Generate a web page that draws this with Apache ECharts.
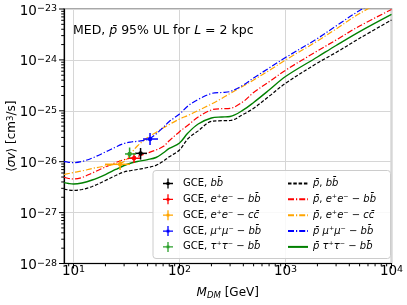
<!DOCTYPE html>
<html>
<head>
<meta charset="utf-8">
<script src="https://cdn.jsdelivr.net/npm/echarts@6/dist/echarts.min.js"></script>
<style>html,body{margin:0;padding:0;background:#fff}#c{width:407px;height:305px}</style>
</head>
<body>
<div id="c"></div>
<script>
// ---------- data ----------
const masses = [8.13, 9, 10, 12, 15, 20, 25, 30, 35, 40, 50, 60, 70, 80, 100, 120, 150, 200, 250, 300, 400, 500, 700, 1000, 2000, 3000, 5000, 10000];
const pbarBB    = [2.91e-27, 2.78e-27, 2.72e-27, 2.84e-27, 3.26e-27, 4.27e-27, 5.36e-27, 6.28e-27, 6.71e-27, 7.03e-27, 7.69e-27, 8.46e-27, 1.02e-26, 1.25e-26, 1.70e-26, 2.82e-26, 4.03e-26, 6.19e-26, 6.39e-26, 6.45e-26, 8.53e-26, 1.12e-25, 1.93e-25, 3.47e-25, 8.69e-25, 1.40e-24, 2.66e-24, 6.08e-24];
const pbarEEBB  = [4.94e-27, 4.68e-27, 4.57e-27, 4.89e-27, 6.0e-27, 7.87e-27, 9.64e-27, 1.10e-26, 1.18e-26, 1.27e-26, 1.48e-26, 1.70e-26, 1.98e-26, 2.58e-26, 3.89e-26, 5.21e-26, 7.55e-26, 1.04e-25, 1.10e-25, 1.12e-25, 1.52e-25, 2.29e-25, 3.71e-25, 6.25e-25, 1.50e-24, 2.46e-24, 4.63e-24, 9.77e-24];
const pbarEECC  = [5.60e-27, 5.86e-27, 6.14e-27, 6.57e-27, 7.35e-27, 8.23e-27, 9.01e-27, 1.01e-26, 1.48e-26, 2.03e-26, 2.99e-26, 3.75e-26, 4.59e-26, 5.38e-26, 6.9e-26, 8.09e-26, 1.01e-25, 1.36e-25, 1.75e-25, 2.19e-25, 3.07e-25, 4.03e-25, 6.19e-25, 9.95e-25, 2.35e-24, 4.05e-24, 8.16e-24, 1.78e-23];
const pbarMMBB  = [1.0e-26, 9.73e-27, 9.56e-27, 1.01e-26, 1.18e-26, 1.55e-26, 1.94e-26, 2.28e-26, 2.44e-26, 2.52e-26, 2.73e-26, 3.50e-26, 4.70e-26, 6.16e-26, 8.65e-26, 1.24e-25, 1.67e-25, 2.19e-25, 2.29e-25, 2.39e-25, 3.21e-25, 4.41e-25, 6.93e-25, 1.11e-24, 2.63e-24, 4.63e-24, 9.34e-24, 2.1e-23];
const pbarTTBB  = [3.87e-27, 3.73e-27, 3.65e-27, 3.82e-27, 4.37e-27, 5.6e-27, 7.03e-27, 8.42e-27, 9.43e-27, 1.01e-26, 1.10e-26, 1.21e-26, 1.48e-26, 1.82e-26, 2.33e-26, 3.66e-26, 5.5e-26, 7.22e-26, 7.55e-26, 7.73e-26, 1.04e-25, 1.46e-25, 2.56e-25, 4.72e-25, 1.14e-24, 1.92e-24, 3.61e-24, 7.87e-24];

// GCE points: [mass, sigmav, massLow, massHigh, sigmavLow, sigmavHigh]
const gceBB   = [42.9, 1.46e-26, 38.0, 49.3, 1.10e-26, 1.86e-26];
const gceEEBB = [37.2, 1.17e-26, 32.7, 42.4, 9.43e-27, 1.48e-26];
const gceEECC = [27.5, 8.89e-27, 19.8, 34.1, 6.87e-27, 1.08e-26];
const gceMMBB = [52.7, 2.79e-26, 45.3, 62.7, 2.13e-26, 3.66e-26];
const gceTTBB = [33.8, 1.42e-26, 30.6, 38.9, 1.17e-26, 1.90e-26];

// axes
const xMin = 8.13, xMax = 1e4, yMin = 1e-28, yMax = 1e-23;
const xMajorTicks = [10, 100, 1000, 10000];
const yMajorTicks = [1e-28, 1e-27, 1e-26, 1e-25, 1e-24, 1e-23];
const yTickLabels = ['\u221228', '\u221227', '\u221226', '\u221225', '\u221224', '\u221223'];
const xMinorTicks = [9, 20, 30, 40, 50, 60, 70, 80, 90, 200, 300, 400, 500, 600, 700, 800, 900, 2000, 3000, 4000, 5000, 6000, 7000, 8000, 9000];
const yMinorTicks = [];
[-28, -27, -26, -25, -24].forEach(function (e) { for (let k = 2; k <= 9; k++) yMinorTicks.push(k * Math.pow(10, e)); });

// labels
const lineNames = ['pbar_bb', 'pbar_eebb', 'pbar_eecc', 'pbar_mmbb', 'pbar_ttbb'];
const gceNames = ['gce_bb', 'gce_eebb', 'gce_eecc', 'gce_mmbb', 'gce_ttbb'];
const B = '{i|b}{i|b\u0304}';
const labels = {
  gce_bb:   'GCE, ' + B,
  gce_eebb: 'GCE, {i|e}\u207A{i|e}\u207B \u2212 ' + B,
  gce_eecc: 'GCE, {i|e}\u207A{i|e}\u207B \u2212 {i|c}{i|c\u0304}',
  gce_mmbb: 'GCE, {i|\u03BC}\u207A{i|\u03BC}\u207B \u2212 ' + B,
  gce_ttbb: 'GCE, {i|\u03C4}\u207A{i|\u03C4}\u207B \u2212 ' + B,
  pbar_bb:   '{i|p\u0304}, ' + B,
  pbar_eebb: '{i|p\u0304}, {i|e}\u207A{i|e}\u207B \u2212 ' + B,
  pbar_eecc: '{i|p\u0304}, {i|e}\u207A{i|e}\u207B \u2212 {i|c}{i|c\u0304}',
  pbar_mmbb: '{i|p\u0304} {i|\u03BC}\u207A{i|\u03BC}\u207B \u2212 ' + B,
  pbar_ttbb: '{i|p\u0304} {i|\u03C4}\u207A{i|\u03C4}\u207B \u2212 ' + B
};

// ---------- build chart ----------
const FONT = 'DejaVu Sans';
const lineSeriesDef = [
  {name: 'pbar_bb',   data: pbarBB,   color: '#000000', type: [3.5, 1.8], width: 1.2},
  {name: 'pbar_eebb', data: pbarEEBB, color: '#ff0000', type: [6, 2, 1.2, 2], width: 1.2},
  {name: 'pbar_eecc', data: pbarEECC, color: '#ffa500', type: [6, 2, 1.2, 2], width: 1.2},
  {name: 'pbar_mmbb', data: pbarMMBB, color: '#0000ff', type: [6, 2, 1.2, 2], width: 1.2},
  {name: 'pbar_ttbb', data: pbarTTBB, color: '#008000', type: 'solid', width: 1.4}
];
const gceDef = [
  {name: 'gce_bb', d: gceBB, color: '#000000'},
  {name: 'gce_eebb', d: gceEEBB, color: '#ff0000'},
  {name: 'gce_eecc', d: gceEECC, color: '#ffa500'},
  {name: 'gce_mmbb', d: gceMMBB, color: '#0000ff'},
  {name: 'gce_ttbb', d: gceTTBB, color: '#2ca02c'}
];

const labelRich = {
  b: {fontFamily: FONT, fontSize: 13.5, lineHeight: 14, fill: '#000', color: '#000', verticalAlign: 'bottom'},
  s: {fontFamily: FONT, fontSize: 9.5, lineHeight: 10, fill: '#000', color: '#000', verticalAlign: 'top', padding: [0, 0, 8, 0]}
};

function renderErr(params, api) {
  const x = api.value(0), y = api.value(1);
  const c = api.coord([x, y]);
  const xl = api.coord([api.value(2), y]);
  const xh = api.coord([api.value(3), y]);
  const yl = api.coord([x, api.value(4)]);
  const yh = api.coord([x, api.value(5)]);
  const color = api.visual('color');
  return {type: 'group', children: [
    {type: 'line', shape: {x1: xl[0], y1: c[1], x2: xh[0], y2: c[1]}, style: {stroke: color, lineWidth: 1.5}},
    {type: 'line', shape: {x1: c[0], y1: yl[1], x2: c[0], y2: yh[1]}, style: {stroke: color, lineWidth: 1.5}},
    {type: 'circle', shape: {cx: c[0], cy: c[1], r: 2.2}, style: {fill: color}}
  ]};
}
function tickRenderer(axis, len) {
  return function (params, api) {
    const p = api.coord([api.value(0), api.value(1)]);
    const shape = axis === 'x' ? {x1: p[0], y1: p[1], x2: p[0], y2: p[1] + len} : {x1: p[0], y1: p[1], x2: p[0] - len, y2: p[1]};
    return {type: 'line', shape: shape, style: {stroke: '#000', lineWidth: 1}};
  };
}
function yLabelRenderer(params, api) {
  const p = api.coord([api.value(0), api.value(1)]);
  return {
    type: 'text', x: p[0] - 7, y: p[1] + 2,
    style: {text: '{b|10}{s|' + yTickLabels[params.dataIndex] + '}', rich: labelRich,
      align: 'right', verticalAlign: 'middle', fill: '#000', fontFamily: FONT, fontSize: 13.5}
  };
}

const series = [];
lineSeriesDef.forEach(function (s) {
  series.push({
    name: s.name, type: 'line', smooth: 0.35, symbol: 'none', clip: true, z: 3,
    data: masses.map(function (m, i) { return [m, s.data[i]]; }),
    itemStyle: {color: s.color},
    lineStyle: {color: s.color, width: s.width, type: s.type}
  });
});
gceDef.forEach(function (g) {
  series.push({
    name: g.name, type: 'custom', renderItem: renderErr, z: 4,
    itemStyle: {color: g.color},
    encode: {x: 0, y: 1},
    data: [g.d]
  });
});
series.push({type: 'custom', silent: true, renderItem: tickRenderer('x', 5), encode: {x: 0, y: 1}, data: xMajorTicks.map(function (v) { return [v, yMin]; }), z: 6});
series.push({type: 'custom', silent: true, renderItem: tickRenderer('x', 2.8), encode: {x: 0, y: 1}, data: xMinorTicks.map(function (v) { return [v, yMin]; }), z: 6});
series.push({type: 'custom', silent: true, renderItem: tickRenderer('y', 5), encode: {x: 0, y: 1}, data: yMajorTicks.map(function (v) { return [xMin, v]; }), z: 6});
series.push({type: 'custom', silent: true, renderItem: tickRenderer('y', 2.8), encode: {x: 0, y: 1}, data: yMinorTicks.map(function (v) { return [xMin, v]; }), z: 6});
series.push({type: 'custom', silent: true, renderItem: yLabelRenderer, encode: {x: 0, y: 1}, data: yMajorTicks.map(function (v) { return [xMin, v]; }), z: 6});

const plusIcon = 'path://M0,4.35H10V5.65H0Z M4.35,0H5.65V10H4.35Z M3.6,3.6H6.4V6.4H3.6Z';
const legendText = {
  fontFamily: FONT, fontSize: 10, color: '#000', lineHeight: 12,
  rich: {i: {fontStyle: 'italic', fontFamily: FONT, fontSize: 10, lineHeight: 12}}
};

function xLabel(v) {
  const e = Math.log10(v);
  if (!(v > 0) || Math.abs(e - Math.round(e)) > 1e-6) return '';
  return '{b|10}{s|' + Math.round(e) + '}';
}

const option = {
  animation: false,
  backgroundColor: '#fff',
  grid: {left: 64, right: 15.5, top: 9, bottom: 41.5, show: true, borderColor: '#8c8c8c', borderWidth: 1.5, containLabel: false, outerBoundsMode: 'none'},
  title: {
    text: 'MED, {i|p\u0304} 95% UL for {i|L} = 2 kpc', left: 73, top: 24, padding: 0,
    textStyle: {fontFamily: FONT, fontSize: 12.5, fontWeight: 'normal', color: '#000',
      rich: {i: {fontFamily: FONT, fontSize: 12.5, fontStyle: 'italic', color: '#000'}}}
  },
  xAxis: {
    type: 'log', logBase: 10, min: xMin, max: xMax,
    axisLine: {show: true, lineStyle: {color: '#000', width: 1.2}},
    axisTick: {show: false}, minorTick: {show: false},
    splitLine: {show: true, lineStyle: {color: '#d6d6d6', width: 1}},
    axisLabel: {formatter: xLabel, rich: labelRich, margin: 1, hideOverlap: false},
    name: '{i|M}{sub|DM} [GeV]', nameLocation: 'middle', nameGap: 22, nameMoveOverlap: false,
    nameTextStyle: {fontFamily: FONT, fontSize: 12, color: '#000',
      rich: {i: {fontFamily: FONT, fontSize: 12, fontStyle: 'italic'}, sub: {fontFamily: FONT, fontSize: 8.5, fontStyle: 'italic', verticalAlign: 'bottom', padding: [6, 0, 0, 0]}}}
  },
  yAxis: {
    type: 'log', logBase: 10, min: yMin, max: yMax,
    axisLine: {show: true, lineStyle: {color: '#000', width: 1.2}},
    axisTick: {show: false}, minorTick: {show: false},
    splitLine: {show: true, lineStyle: {color: '#d6d6d6', width: 1}},
    axisLabel: {show: false},
    name: '\u27E8{i|\u03C3v}\u27E9 [cm{s|3}/s]', nameLocation: 'middle', nameGap: 46, nameMoveOverlap: false,
    nameTextStyle: {fontFamily: FONT, fontSize: 12, color: '#000',
      rich: {i: {fontFamily: FONT, fontSize: 12, fontStyle: 'italic'}, s: {fontFamily: FONT, fontSize: 8.5, verticalAlign: 'top'}}}
  },
  graphic: [{
    type: 'rect', z: 50, left: 152.5, top: 170, silent: true,
    shape: {width: 237.5, height: 88, r: 3},
    style: {fill: 'rgba(255,255,255,0.85)', stroke: '#cccccc', lineWidth: 1}
  }],
  legend: [
    {
      orient: 'vertical', left: 163, top: 177.5, padding: 0, itemWidth: 10, itemHeight: 10, itemGap: 3.85, z: 60,
      icon: plusIcon, selectedMode: false,
      data: gceNames.map(function (n) { return {name: n, icon: plusIcon}; }),
      formatter: function (n) { return labels[n]; },
      textStyle: Object.assign({}, legendText, {padding: [0, 0, 0, 5]})
    },
    {
      orient: 'vertical', left: 287, top: 177.5, padding: 0, itemWidth: 20, itemHeight: 10, itemGap: 3.85, z: 60,
      selectedMode: false, itemStyle: {opacity: 0},
      data: lineNames,
      formatter: function (n) { return labels[n]; },
      textStyle: legendText
    }
  ],
  series: series
};

const chart = echarts.init(document.getElementById('c'), null, {renderer: 'canvas'});
chart.setOption(option);
</script>
</body>
</html>
